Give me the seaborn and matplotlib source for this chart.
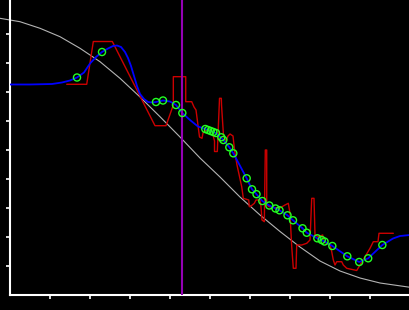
import matplotlib
matplotlib.use("Agg")
import matplotlib.pyplot as plt
import seaborn as sns
import pandas as pd

# Gray reference curve
gray_x = [-2.5, 2.5, 7.5, 12.5, 17.5, 22.5, 27.5, 32.5, 37.5, 42.5, 47.5, 52.5,
          57.5, 62.5, 67.5, 72.5, 77.5, 82.5, 87.5, 92.5, 100]
gray_y = [9.541, 9.424, 9.197, 8.907, 8.507, 8.045, 7.472, 6.828, 6.148, 5.448,
          4.724, 4.069, 3.379, 2.759, 2.190, 1.655, 1.172, 0.828, 0.586, 0.414, 0.266]

# Blue smooth curve
blue_x = [0, 5, 10.5, 13, 15, 16.75, 18.5, 20, 21.5, 23, 24.5, 25.75, 26.75, 27.75,
          28.75, 29.5, 30.25, 31, 31.75, 32.5, 33.5, 34.5, 35.5, 36.5, 38.25, 40,
          41.5, 43.08, 45, 47, 48.83, 51.5, 53.33, 54.83, 55.83, 59.17, 60.5, 61.63,
          63.08, 64.83, 67.38, 69.38, 70.75, 73.13, 74.18, 76.83, 78.63, 80.58,
          84.33, 87.3, 89.55, 93.08, 95.75, 97.5, 100]
blue_y = [7.259, 7.259, 7.276, 7.328, 7.397, 7.5, 7.672, 7.983, 8.207, 8.379, 8.5,
          8.586, 8.603, 8.552, 8.379, 8.172, 7.897, 7.552, 7.207, 6.931, 6.759,
          6.655, 6.638, 6.655, 6.707, 6.672, 6.552, 6.276, 6.034, 5.810, 5.724,
          5.586, 5.345, 5.093, 4.886, 4.024, 3.645, 3.476, 3.241, 3.086, 2.921,
          2.748, 2.576, 2.3, 2.148, 1.955, 1.845, 1.690, 1.334, 1.138, 1.266,
          1.724, 1.948, 2.034, 2.069]

# Red step-like series
red_x = [14.18, 19.18, 20.83, 25.58, 36.25, 39, 40.83, 40.83, 43.93, 43.93, 45.43,
         46, 46.5, 47.38, 48, 48.25, 49, 50.5, 51.13, 51.13, 51.83, 52.38, 52.83,
         52.88, 53.38, 54, 54.5, 55, 55.75, 56.13, 56.75, 57.93, 58.33, 59.68,
         59.83, 60.25, 61.08, 61.5, 62.5, 62.75, 63, 63.58, 63.83, 64.18, 64.18,
         64.83, 67.33, 68.75, 69.58, 70, 70.43, 70.83, 71.5, 71.68, 72.93, 74.18,
         75, 75.43, 76, 76.25, 77.08, 78.18, 78.33, 80, 80.43, 80.83, 81.25, 81.68,
         82.93, 83.33, 84.18, 86.68, 87.5, 88.75, 90, 90.83, 92, 92.25, 95.83]
red_y = [7.266, 7.266, 8.741, 8.741, 5.838, 5.838, 6.552, 7.528, 7.528, 6.666,
         6.666, 6.483, 6.379, 5.448, 5.403, 5.586, 5.690, 5.655, 5.310, 4.948,
         4.948, 6.783, 6.783, 6.552, 5.483, 5.310, 5.483, 5.552, 5.483, 5.0,
         4.483, 3.734, 3.334, 3.276, 3.045, 3.069, 3.162, 3.276, 3.276, 3.045,
         2.586, 2.528, 5.0, 5.0, 3.103, 3.045, 2.990, 3.103, 3.162, 2.817, 1.666,
         0.921, 0.921, 1.724, 1.724, 1.783, 1.897, 3.334, 3.334, 2.069, 2.010,
         2.069, 1.838, 1.724, 1.493, 1.207, 1.034, 1.148, 1.148, 1.034, 0.921,
         0.845, 1.034, 1.321, 1.610, 1.838, 1.838, 2.128, 2.128]

# Green circle markers
pts_x = [16.75, 23, 36.5, 38.25, 41.5, 43.08, 48.83, 49.5, 50.18, 50.83, 51.5,
         52.83, 53.33, 54.83, 55.83, 59.17, 60.5, 61.63, 63.08, 64.83, 66.38,
         67.38, 69.38, 70.75, 73.13, 74.18, 76.83, 77.93, 78.63, 80.58, 84.33,
         87.3, 89.55, 93.08]
pts_y = [7.5, 8.379, 6.655, 6.707, 6.552, 6.276, 5.724, 5.690, 5.655, 5.621,
         5.586, 5.438, 5.345, 5.093, 4.886, 4.024, 3.645, 3.476, 3.241, 3.086,
         2.983, 2.921, 2.748, 2.576, 2.3, 2.148, 1.955, 1.897, 1.845, 1.690,
         1.334, 1.138, 1.266, 1.724]

vline_x = 43.08
x_ticks = [10, 20, 30, 40, 50, 60, 70, 80, 90]
y_ticks = [1, 2, 3, 4, 5, 6, 7, 8, 9]

sns.set_style("dark")
plt.rcParams["font.family"] = ["DejaVu Sans"]

fig = plt.figure(figsize=(4.1, 3.1), dpi=100, facecolor="black")
ax = fig.add_axes([10 / 410, 15 / 310, 400 / 410, 295 / 310])
ax.set_facecolor("black")
ax.grid(False)

gray_df = pd.DataFrame({"x": gray_x, "y": gray_y})
blue_df = pd.DataFrame({"x": blue_x, "y": blue_y})
red_df = pd.DataFrame({"x": red_x, "y": red_y})
pts_df = pd.DataFrame({"x": pts_x, "y": pts_y})

sns.lineplot(data=gray_df, x="x", y="y", sort=False, estimator=None, ax=ax,
             color="#b4b4b4", linewidth=0.8, clip_on=False, zorder=1)
sns.lineplot(data=red_df, x="x", y="y", sort=False, estimator=None, ax=ax,
             color="#cc0000", linewidth=1.0, zorder=2)
sns.lineplot(data=blue_df, x="x", y="y", sort=False, estimator=None, ax=ax,
             color="#0000ff", linewidth=1.3, zorder=3)
ax.axvline(vline_x, color="#9400b4", linewidth=1.5, zorder=4)
sns.scatterplot(data=pts_df, x="x", y="y", ax=ax, s=26, facecolor="none",
                edgecolor="#22ff22", linewidth=1.0, zorder=5)

ax.set_xlim(0, 100)
ax.set_ylim(0, 295 / 29)
ax.set_xticks(x_ticks)
ax.set_yticks(y_ticks)
ax.set_xticklabels([])
ax.set_yticklabels([])
ax.set_xlabel("")
ax.set_ylabel("")
for side in ["top", "right"]:
    ax.spines[side].set_visible(False)
for side in ["left", "bottom"]:
    ax.spines[side].set_visible(True)
    ax.spines[side].set_color("white")
    ax.spines[side].set_linewidth(1.5)
ax.tick_params(axis="both", colors="white", length=3, width=1.2, direction="out",
               left=True, bottom=True)

fig.savefig("out.png", dpi=100, facecolor="black")
